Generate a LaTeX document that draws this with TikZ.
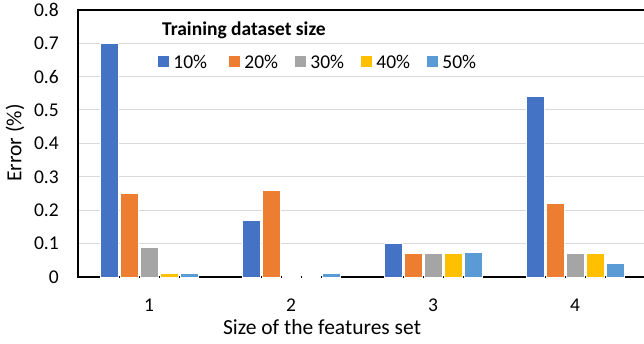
\documentclass[tikz,border=0pt]{standalone}
\usepackage{fontspec}
\setmainfont{Carlito}
\definecolor{BarBlue}{RGB}{68,114,196}
\definecolor{BarOrange}{RGB}{237,125,49}
\definecolor{BarGray}{RGB}{165,165,165}
\definecolor{BarGold}{RGB}{255,192,0}
\definecolor{BarSky}{RGB}{91,155,213}
\definecolor{GridGray}{RGB}{217,217,217}
\usetikzlibrary{positioning}

\tikzset{
  databar/.style={fill=#1, draw=white, line width=0.5pt},
  gridline/.style={GridGray, line width=1pt},
  axisline/.style={black, line width=1.4pt},
  ticklabel/.style={font=\fontsize{19.5}{22}\selectfont, inner sep=0pt},
  axistitle/.style={font=\fontsize{21.5}{24}\selectfont, inner sep=0pt},
  swatch/.style={fill=#1, minimum size=11pt, inner sep=0pt},
}

\begin{document}
\begin{tikzpicture}[x=1pt, y=1pt]
  \useasboundingbox (0,0) rectangle (644,343);
  % grid and axes
  \foreach \t in {1,...,7}
    \draw[gridline] (78,66+33.4*\t) -- (644,66+33.4*\t);
  \draw[axisline] (644,333) -- (78,333) -- (78,66) -- (644,66);
  \foreach \t/\lab in {0/0,1/0.1,2/0.2,3/0.3,4/0.4,5/0.5,6/0.6,7/0.7,8/0.8}
    \node[ticklabel, anchor=east] (ytick\t) at (59,66+33.4*\t) {\lab};
  % bars, five per feature set
  \foreach \cat/\va/\vb/\vc/\vd/\ve in {1/0.7/0.25/0.09/0.01/0.01, 2/0.17/0.26/0.003/0.003/0.01,
      3/0.1/0.07/0.07/0.07/0.075, 4/0.54/0.22/0.07/0.07/0.04} {
    \foreach \v/\col [count=\s] in {\va/BarBlue, \vb/BarOrange, \vc/BarGray, \vd/BarGold, \ve/BarSky}
      \filldraw[databar=\col] (-62+142*\cat+20*\s,66) rectangle (-44+142*\cat+20*\s,66+334*\v);
    \node[ticklabel] (xtick\cat) at (7+142*\cat,38) {\cat};
  }
  \node[axistitle] (xtitle) at (322,16) {Size of the features set};
  \node[axistitle, rotate=90] (ytitle) at (15,200) {Error (\%)};
  % legend
  \node[ticklabel, font=\fontsize{19.5}{22}\selectfont\bfseries, anchor=west] (legtitle) at (162,313) {Training dataset size};
  \foreach \px/\col/\lab in {163.5/BarBlue/10, 234.5/BarOrange/20, 300.5/BarGray/30, 366.5/BarGold/40, 432.5/BarSky/50} {
    \node[swatch=\col] (key\lab) at (\px,281) {};
    \node[ticklabel, right=4pt of key\lab] (leg\lab) {\lab\%};
  }
\end{tikzpicture}
\end{document}
